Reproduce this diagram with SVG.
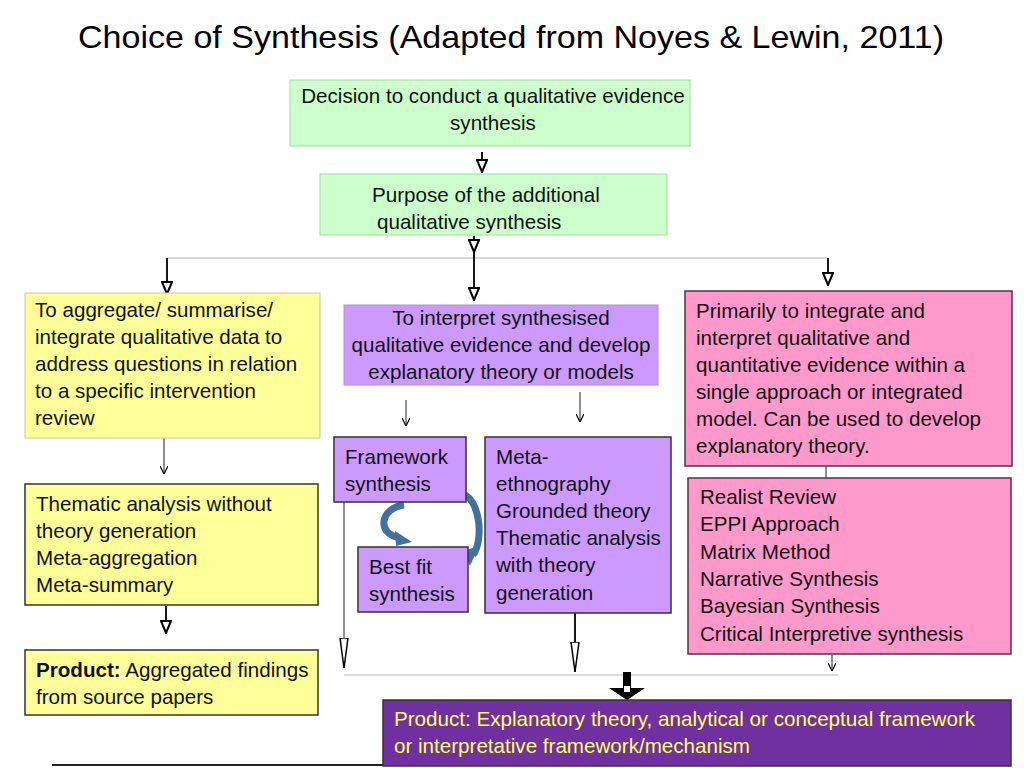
<svg xmlns="http://www.w3.org/2000/svg" width="1024" height="768" viewBox="0 0 1024 768">
<defs>
<style>
text{font-family:"Liberation Sans",Arial,sans-serif;font-size:20.6px;fill:#111}
.title{font-size:32px;fill:#000}
.green{fill:#ccffcc;stroke:#a8d8a8;stroke-width:1}
.yellow{fill:#ffff99;stroke:#333;stroke-width:1.5}
.yellowl{fill:#ffff99;stroke:#c8c8a0;stroke-width:1}
.purple{fill:#cc99ff;stroke:#333;stroke-width:1.5}
.purplel{fill:#cc99ff;stroke:#b090d8;stroke-width:1}
.pink{fill:#ff99cc;stroke:#553344;stroke-width:1.5}
.dark{fill:#7030a0;stroke:#333;stroke-width:1.5}
.ytext{fill:#ffff66}
.ln{stroke:#000;stroke-width:1.8;fill:none}
.thin{stroke:#222;stroke-width:1;fill:none}
.gray{stroke:#cccccc;stroke-width:1.5;fill:none}
.curve{stroke:#41719c;stroke-width:7;fill:none}
</style>
<marker id="ahw" viewBox="0 0 14 12" refX="13" refY="6" markerWidth="14" markerHeight="12" markerUnits="userSpaceOnUse" orient="auto">
<path d="M1,1 L13,6 L1,11 Z" fill="#fff" stroke="#000" stroke-width="2"/>
</marker>
<marker id="ahs" viewBox="0 0 8 8" refX="8" refY="4" markerWidth="8" markerHeight="8" markerUnits="userSpaceOnUse" orient="auto">
<path d="M0,0 L8,4 L0,8" fill="none" stroke="#000" stroke-width="1.2"/>
</marker>
<marker id="ahl" viewBox="0 0 30 10" refX="30" refY="5" markerWidth="30" markerHeight="10" markerUnits="userSpaceOnUse" orient="auto">
<path d="M0,1 L30,5 L0,9 Z" fill="#fff" stroke="#000" stroke-width="1.5"/>
</marker>
</defs>

<text class="title" x="78" y="48" textLength="866" lengthAdjust="spacingAndGlyphs">Choice of Synthesis (Adapted from Noyes &amp; Lewin, 2011)</text>

<g id="connectors">
<line class="ln" x1="482" y1="152" x2="482" y2="172" marker-end="url(#ahw)"/>
<line class="ln" x1="474" y1="236" x2="474" y2="252" marker-end="url(#ahw)"/>
<line class="gray" x1="167" y1="258" x2="828" y2="258"/>
<line class="ln" x1="474" y1="252" x2="474" y2="300" marker-end="url(#ahw)"/>
<line class="ln" x1="167" y1="258" x2="167" y2="294" marker-end="url(#ahw)"/>
<line class="ln" x1="828" y1="258" x2="828" y2="285" marker-end="url(#ahw)"/>
<line class="thin" x1="164" y1="438" x2="164" y2="474" marker-end="url(#ahs)"/>
<line class="thin" x1="406" y1="400" x2="406" y2="426" marker-end="url(#ahs)"/>
<line class="thin" x1="580" y1="392" x2="580" y2="422" marker-end="url(#ahs)"/>
<line class="ln" x1="166" y1="606" x2="166" y2="633" marker-end="url(#ahw)"/>
<line class="thin" x1="344" y1="495" x2="344" y2="668" marker-end="url(#ahl)"/>
<line class="ln" x1="575" y1="613" x2="575" y2="672" marker-end="url(#ahl)"/>
<line class="gray" x1="344" y1="675" x2="838" y2="675"/>
<line class="thin" x1="826" y1="466" x2="826" y2="478"/>
<line class="thin" x1="832" y1="655" x2="832" y2="671" marker-end="url(#ahs)"/>
<path d="M623,672 H631 V688 H645 L627,700 L609,688 H623 Z" fill="#000"/>
<rect x="624" y="686" width="6" height="6" fill="#fff"/>
<path class="curve" d="M404,505 C380,508 376,534 400,538"/>
<path d="M395,531 L412,542 L396,546 Z" fill="#41719c"/>
<path class="curve" d="M463,494 C480,500 484,540 473,555"/>
<path d="M463,551 L479,546 L470,566 Z" fill="#41719c"/>
<line x1="52" y1="765" x2="1011" y2="765" stroke="#222" stroke-width="2"/>
</g>

<g id="n1">
<rect class="green" x="290" y="80" width="400" height="66"/>
<text x="493" y="103" text-anchor="middle">Decision to conduct a qualitative evidence</text>
<text x="493" y="130" text-anchor="middle">synthesis</text>
</g>
<g id="n2">
<rect class="green" x="320" y="174" width="347" height="61"/>
<text x="372" y="202">Purpose of the additional</text>
<text x="377" y="229">qualitative synthesis</text>
</g>
<g id="n3">
<rect class="yellowl" x="25" y="293" width="295" height="145"/>
<text x="35" y="317">To aggregate/ summarise/</text>
<text x="35" y="344">integrate qualitative data to</text>
<text x="35" y="371">address questions in relation</text>
<text x="35" y="398">to a specific intervention</text>
<text x="35" y="425">review</text>
</g>
<g id="n4">
<rect class="purplel" x="344" y="305" width="314" height="80"/>
<text x="501" y="325" text-anchor="middle">To interpret synthesised</text>
<text x="501" y="352" text-anchor="middle">qualitative evidence and develop</text>
<text x="501" y="379" text-anchor="middle">explanatory theory or models</text>
</g>
<g id="n5">
<rect class="pink" x="685" y="291" width="327" height="175"/>
<text x="696" y="318">Primarily to integrate and</text>
<text x="696" y="345">interpret qualitative and</text>
<text x="696" y="372">quantitative evidence within a</text>
<text x="696" y="399">single approach or integrated</text>
<text x="696" y="426">model. Can be used to develop</text>
<text x="696" y="453">explanatory theory.</text>
</g>
<g id="n6">
<rect class="purple" x="334" y="437" width="132" height="65"/>
<text x="345" y="464">Framework</text>
<text x="345" y="491">synthesis</text>
</g>
<g id="n7">
<rect class="purple" x="485" y="437" width="186" height="176"/>
<text x="496" y="464">Meta-</text>
<text x="496" y="491">ethnography</text>
<text x="496" y="518">Grounded theory</text>
<text x="496" y="545">Thematic analysis</text>
<text x="496" y="572">with theory</text>
<text x="496" y="600">generation</text>
</g>
<g id="n8">
<rect class="purple" x="358" y="547" width="110" height="65"/>
<text x="369" y="574">Best fit</text>
<text x="369" y="601">synthesis</text>
</g>
<g id="n9">
<rect class="yellow" x="25" y="484" width="293" height="121"/>
<text x="36" y="511">Thematic analysis without</text>
<text x="36" y="538">theory generation</text>
<text x="36" y="565">Meta-aggregation</text>
<text x="36" y="592">Meta-summary</text>
</g>
<g id="n10">
<rect class="pink" x="688" y="478" width="323" height="176"/>
<text x="700" y="504">Realist Review</text>
<text x="700" y="531">EPPI Approach</text>
<text x="700" y="559">Matrix Method</text>
<text x="700" y="586">Narrative Synthesis</text>
<text x="700" y="613">Bayesian Synthesis</text>
<text x="700" y="641">Critical Interpretive synthesis</text>
</g>
<g id="n11">
<rect class="yellow" x="25" y="650" width="293" height="65"/>
<text x="36" y="677"><tspan font-weight="bold">Product:</tspan> Aggregated findings</text>
<text x="36" y="704">from source papers</text>
</g>
<g id="n12">
<rect class="dark" x="383" y="700" width="628" height="66"/>
<text class="ytext" x="394" y="726">Product: Explanatory theory, analytical or conceptual framework</text>
<text class="ytext" x="394" y="753">or interpretative framework/mechanism</text>
</g>
</svg>
